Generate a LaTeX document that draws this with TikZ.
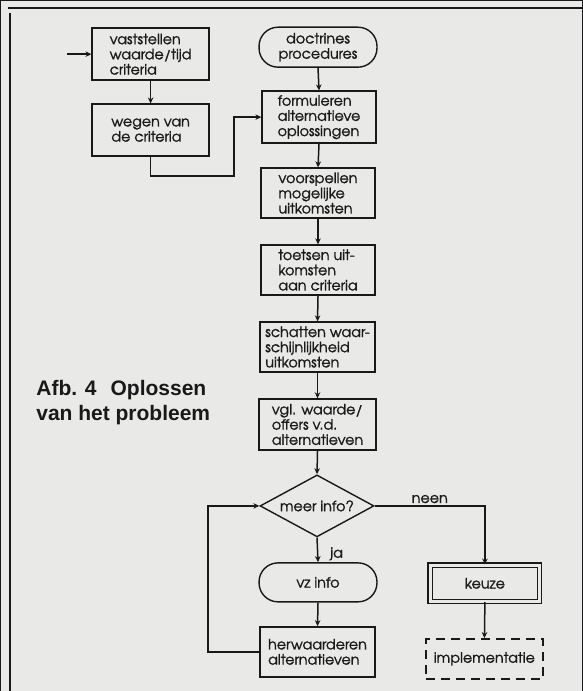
\documentclass[tikz,border=0pt]{standalone}
\usepackage{fontspec}
\usetikzlibrary{shapes.geometric,arrows.meta}
\newfontfamily\advfont[FakeBold=1.4]{texgyreadventor-regular.otf}
\newfontfamily\capfont{Liberation Sans}
\newcommand\nodefnt{\advfont\fontsize{14.3}{15.2}\selectfont\lineskiplimit=-20pt\relax}
\definecolor{paper}{RGB}{233,233,231}
\definecolor{ink}{RGB}{25,25,25}
\tikzset{
  x=1pt,y=-1pt,
  every path/.style={draw=ink},
  lbl/.style={font=\nodefnt, text=ink},
  boxnode/.style={draw=ink, line width=1.4pt, rectangle, inner sep=0pt, align=left, lbl},
  capsule/.style={boxnode, rounded corners=19pt, align=center},
  conn/.style={draw=ink, line width=1.5pt, -{Stealth[length=6pt,width=5.5pt]}},
}
\begin{document}
\begin{tikzpicture}
\fill[paper] (0,0) rectangle (582,691);
\useasboundingbox (0,0) rectangle (582,691);
% frame
\draw[line width=2pt] (8,8) -- (582,8);
\draw[line width=2.6pt] (9.8,13) -- (9.8,691);
% nodes
\node[boxnode, minimum width=117pt, minimum height=52pt] (vast) at (150.5,54) {vaststellen\\waarde/tijd\\criteria};
\node[boxnode, minimum width=117pt, minimum height=52pt] (wegen) at (150.5,130) {wegen van\\de criteria};
\node[capsule, minimum width=118pt, minimum height=40pt] (doc) at (318,47) {doctrines\\procedures};
\node[boxnode, minimum width=114pt, minimum height=52pt] (form) at (319,117) {formuleren\\alternatieve\\oplossingen};
\node[boxnode, minimum width=114pt, minimum height=50pt] (voor) at (318,193) {voorspellen\\mogelijke\\uitkomsten};
\node[boxnode, minimum width=114pt, minimum height=50pt] (toets) at (318,270) {toetsen uit-\\komsten\\aan criteria};
\node[boxnode, minimum width=115pt, minimum height=50pt] (schat) at (317.5,347) {schatten waar-\\schijnlijkheid\\uitkomsten};
\node[boxnode, minimum width=117pt, minimum height=51pt] (vgl) at (317.5,424.5) {vgl. waarde/\\offers v.d.\\alternatieven};
\node[diamond, draw=ink, line width=1.4pt, aspect=1.84, inner sep=0pt, minimum width=114pt, minimum height=62pt, lbl] (dia) at (317,506) {meer info?};
\node[capsule, minimum width=118pt, minimum height=39pt] (vz) at (318,582.5) {vz info};
\node[boxnode, minimum width=115pt, minimum height=50pt] (herw) at (317.5,652) {herwaarderen\\alternatieven};
\node[boxnode, line width=1.2pt, double=paper, double distance=3.2pt, minimum width=109.5pt, minimum height=36.5pt, align=center] (keuze) at (485,583.5) {keuze};
\node[boxnode, dash pattern=on 9pt off 6pt, minimum width=117pt, minimum height=40pt, align=center] (impl) at (484.5,659) {implementatie};
% caption
\node[anchor=base west, inner sep=0pt, font=\capfont\bfseries\fontsize{21}{25}\selectfont, text=ink, align=left] (cap) at (36,421) {Afb. 4\hspace{14pt}Oplossen\\van het probleem};
% connectors
\coordinate (inp) at (67,54);
\coordinate (c1) at (234,176);
\coordinate (c2) at (208,580);
\draw[conn] (inp) -- (vast.west);
\draw[conn] (vast.south) -- (wegen.north);
\draw[conn] (wegen.south) |- (c1) |- (form.west);
\draw[conn] (doc.south) -- (form.north);
\draw[conn] (form.south) -- (voor.north);
\draw[conn] (voor.south) -- (toets.north);
\draw[conn] (toets.south) -- (schat.north);
\draw[conn] (schat.south) -- (vgl.north);
\draw[conn] (vgl.south) -- (dia.north);
\draw[conn] (dia.east) -| node[lbl, pos=0.25, above, inner sep=2pt] (neen) {neen} (keuze.north);
\draw[conn] (dia.south) -- node[lbl, right, inner sep=0pt, xshift=12pt, yshift=-4pt] (ja) {ja} (vz.north);
\draw[conn] (vz.south) -- (herw.north);
\draw[conn] (herw.west) -| (c2) |- (dia.west);
\draw[conn] (keuze.south) -- (impl.north);
\end{tikzpicture}
\end{document}
